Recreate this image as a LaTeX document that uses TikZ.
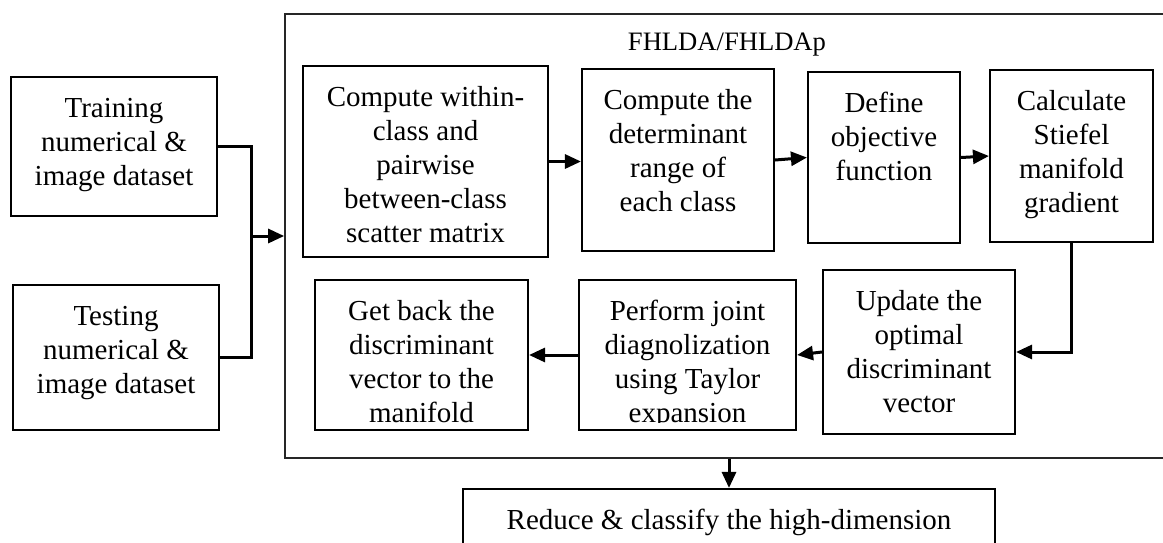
\documentclass[tikz,border=0pt]{standalone}
\usepackage{fontspec}
\setmainfont{Liberation Serif}
\usetikzlibrary{arrows.meta,fit}

% text sizes used in the flow chart
\newcommand\boxfont{\fontsize{14.5pt}{17pt}\selectfont}
\newcommand\headfont{\fontsize{13.3pt}{15pt}\selectfont}

\begin{document}
\begin{tikzpicture}[
  x=0.5pt, y=-0.5pt,
  stepbox/.style={draw, line width=1.05pt, inner sep=0pt, rectangle},
  frame/.style={draw=black!85, line width=0.85pt, inner sep=0pt, rectangle},
  lbl/.style={anchor=north, inner sep=0pt, align=center, font=\boxfont},
  conn/.style={line width=1.5pt},
  arr/.style={conn, -{Triangle[length=8pt,width=7pt]}},
]
\useasboundingbox (0,0) rectangle (1163,542);
\clip (0,0) rectangle (1163,542);

% input data sets
\node[stepbox, fit={(11,77) (217,216)}] (train) {};
\node[lbl] (traintxt) at ([yshift=-8.75pt]train.north)
  {\strut Training\\numerical \&\\image dataset};
\node[stepbox, fit={(13,285) (219,430)}] (test) {};
\node[lbl] (testtxt) at ([yshift=-8.75pt]test.north)
  {\strut Testing\\numerical \&\\image dataset};

% enclosing method frame
\node[frame, fit={(285,14) (1166,458)}] (outer) {};
\node[font=\headfont, anchor=base, inner sep=0pt] (title) at (727,50) {FHLDA/FHLDAp};

% upper row of steps
\node[stepbox, fit={(303,66) (548,257)}] (b1) {};
\node[lbl] (t1) at ([yshift=-8.75pt]b1.north)
  {\strut Compute within-\\class and\\pairwise\\between-class\\scatter matrix};
\node[stepbox, fit={(582,69) (774,251)}] (b2) {};
\node[lbl] (t2) at ([yshift=-8.75pt]b2.north)
  {\strut Compute the\\determinant\\range of\\each class};
\node[stepbox, fit={(808,72) (960,243)}] (b3) {};
\node[lbl] (t3) at ([yshift=-8.75pt]b3.north)
  {\strut Define\\objective\\function};
\node[stepbox, fit={(990,70) (1153,242)}] (b4) {};
\node[lbl] (t4) at ([yshift=-8.75pt]b4.north)
  {\strut Calculate\\Stiefel\\manifold\\gradient};

% lower row of steps
\node[stepbox, fit={(823,270) (1015,434)}] (b5) {};
\node[lbl] (t5) at ([yshift=-8.75pt]b5.north)
  {\strut Update the\\optimal\\discriminant\\vector};
\node[stepbox, fit={(579,280) (796,430)}] (b6) {};
\node[stepbox, fit={(315,280) (528,430)}] (b7) {};
\begin{scope}
  \clip (579,280) rectangle (796,422);
  \node[lbl] (t6) at ([yshift=-8.75pt]b6.north)
    {\strut Perform joint\\diagnolization\\using Taylor\\expansion};
\end{scope}
\begin{scope}
  \clip (315,280) rectangle (528,422);
  \node[lbl] (t7) at ([yshift=-8.75pt]b7.north)
    {\strut Get back the\\discriminant\\vector to the\\manifold};
\end{scope}

% output step
\node[stepbox, fit={(463,489) (995,572)}] (out) {};
\node[lbl] (tout) at ([yshift=-8.75pt]out.north)
  {\strut Reduce \& classify the high-dimension};

% connectors
\coordinate (jn) at (251,236);
\draw[conn] (train.east) -| (jn) |- (test.east);
\draw[arr] (jn) -- (jn -| outer.west);
\draw[arr] (b1.east) -- (b1.east -| b2.west);
\draw[arr] (b2.east) -- (b3.west);
\draw[arr] (b3.east) -- (b4.west);
\draw[arr] (b4.south) |- (b5.east);
\draw[arr] (b5.west) -- (b6.east);
\draw[arr] (b6.west) -- (b7.east);
\draw[arr] (out.north |- outer.south) -- (out.north);
\end{tikzpicture}
\end{document}
